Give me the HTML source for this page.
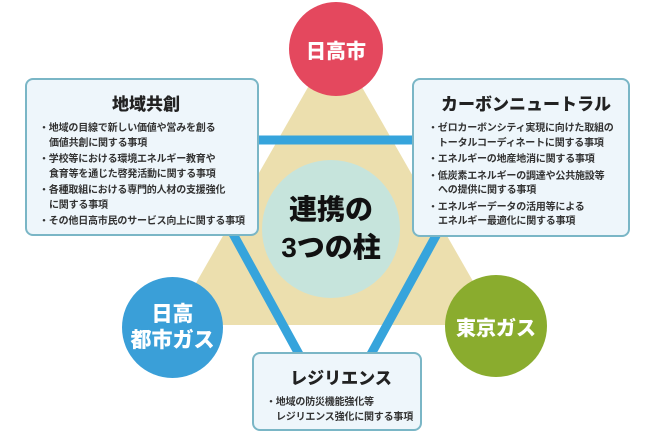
<!DOCTYPE html>
<html><head><meta charset="utf-8"><style>
body{margin:0;width:650px;height:436px;background:#fff;position:relative;overflow:hidden;font-family:"Liberation Sans","Noto Sans CJK JP",sans-serif;}
.box{position:absolute;background:#eef6fb;border:2px solid #7ab6c6;border-radius:8px;box-sizing:border-box;color:#222;}
.box h3{margin:0;text-align:center;font-size:17px;font-weight:900;}
.box ul{margin:0;padding:0;list-style:none;font-size:10px;font-weight:bold;line-height:14.5px;color:#333;white-space:nowrap;letter-spacing:-0.2px}
.box li{padding-left:10px;text-indent:-10px;margin-bottom:2px}
.c{position:absolute;border-radius:50%;color:#fff;font-weight:900;display:flex;align-items:center;justify-content:center;text-align:center;}
</style></head><body>
<svg width="650" height="436" style="position:absolute;left:0;top:0">
<polygon points="335,40 172,325 498,325" fill="#ecdfae"/>
<line x1="250" y1="140" x2="420" y2="140" stroke="#36a4dc" stroke-width="9"/>
<line x1="232" y1="232" x2="300" y2="356" stroke="#36a4dc" stroke-width="9"/>
<line x1="438" y1="232" x2="370" y2="356" stroke="#36a4dc" stroke-width="9"/>
</svg>
<div class="c" style="left:262px;top:160px;width:138px;height:138px;background:#c6e4dc;color:#111;font-size:28px;line-height:38px;">連携の<br>3つの柱</div>
<div class="c" style="left:289px;top:2px;width:94px;height:94px;background:#e4485e;font-size:20px;">日高市</div>
<div class="c" style="left:122px;top:277px;width:101px;height:101px;background:#3a9fd8;font-size:21px;line-height:26px;">日高<br>都市ガス</div>
<div class="c" style="left:445px;top:275px;width:102px;height:102px;background:#8aac2e;font-size:20px;">東京ガス</div>
<div class="box" style="left:25px;top:78px;width:234px;height:158px;padding:10px 4px 0 12px;">
<h3 style="margin-bottom:7px">地域共創</h3>
<ul><li>・地域の目線で新しい価値や営みを創る<br>価値共創に関する事項</li><li>・学校等における環境エネルギー教育や<br>食育等を通じた啓発活動に関する事項</li><li>・各種取組における専門的人材の支援強化<br>に関する事項</li><li>・その他日高市民のサービス向上に関する事項</li></ul></div>
<div class="box" style="left:412px;top:78px;width:218px;height:159px;padding:10px 4px 0 14px;">
<h3 style="margin-bottom:7px">カーボンニュートラル</h3>
<ul><li>・ゼロカーボンシティ実現に向けた取組の<br>トータルコーディネートに関する事項</li><li>・エネルギーの地産地消に関する事項</li><li>・低炭素エネルギーの調達や公共施設等<br>への提供に関する事項</li><li>・エネルギーデータの活用等による<br>エネルギー最適化に関する事項</li></ul></div>
<div class="box" style="left:252px;top:352px;width:170px;height:79px;padding:10px 4px 0 12px;">
<h3 style="margin-bottom:7px">レジリエンス</h3>
<ul><li>・地域の防災機能強化等<br>レジリエンス強化に関する事項</li></ul></div>
</body></html>
